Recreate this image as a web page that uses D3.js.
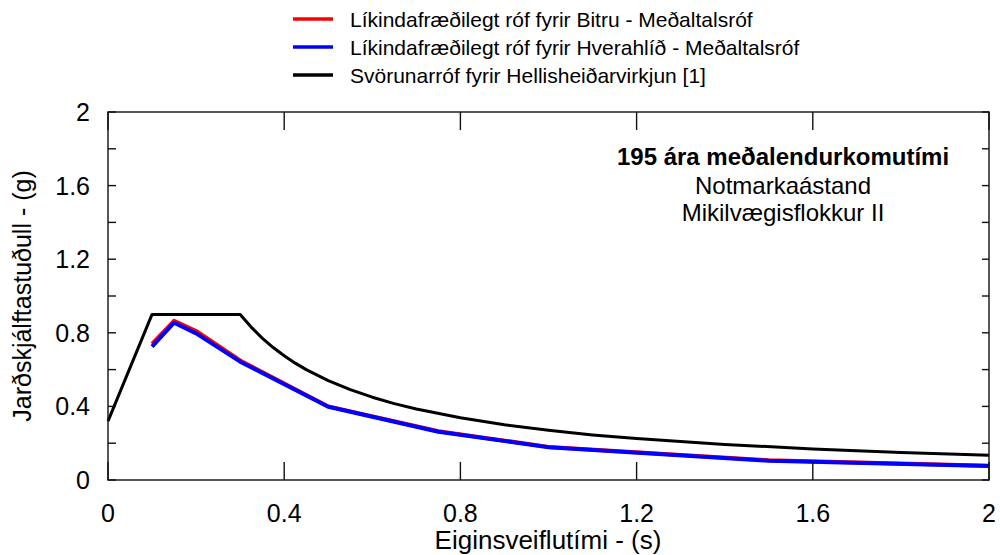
<!DOCTYPE html>
<html><head><meta charset="utf-8">
<script src="https://cdn.jsdelivr.net/npm/d3@7/dist/d3.min.js"></script>
<style>body{margin:0;background:#fff}svg{display:block}text{font-family:"Liberation Sans",Arial,sans-serif;fill:#000}</style>
</head><body><svg id="c" width="1000" height="555"></svg>
<script>
// Data
const periodsDesign = [0, 0.1, 0.3, 0.325, 0.35, 0.375, 0.4, 0.425, 0.45, 0.5, 0.55, 0.6, 0.65, 0.7, 0.8, 0.9, 1.0, 1.1, 1.2, 1.4, 1.6, 1.8, 2.0];
const valuesDesign  = [0.32, 0.9, 0.9, 0.831, 0.771, 0.72, 0.675, 0.635, 0.6, 0.54, 0.491, 0.45, 0.415, 0.386, 0.338, 0.3, 0.27, 0.245, 0.225, 0.193, 0.169, 0.15, 0.135];
const periodsProb = [0.1, 0.15, 0.2, 0.3, 0.5, 0.75, 1.0, 1.5, 2.0];
const valuesBitru = [0.74, 0.865, 0.81, 0.65, 0.40, 0.265, 0.18, 0.107, 0.077];
const valuesHvera = [0.725, 0.855, 0.797, 0.643, 0.398, 0.262, 0.178, 0.105, 0.076];
const seriesNames = ["Líkindafræðilegt róf fyrir Bitru - Meðaltalsróf",
                     "Líkindafræðilegt róf fyrir Hverahlíð - Meðaltalsróf",
                     "Svörunarróf fyrir Hellisheiðarvirkjun [1]"];
const seriesColors = ["#ff0000", "#0000ff", "#000000"];
const xTicks = [0, 0.4, 0.8, 1.2, 1.6, 2];
const yTicks = [0, 0.4, 0.8, 1.2, 1.6, 2];
const yMinor = [0.2, 0.6, 1.0, 1.4, 1.8];
const xTitle = "Eiginsveiflutími - (s)";
const yTitle = "Jarðskjálftastuðull - (g)";
const notes = ["195 ára meðalendurkomutími", "Notmarkaástand", "Mikilvægisflokkur II"];

const svg = d3.select("#c");
const L = 108, R = 989, T = 112, B = 480;
const x = d3.scaleLinear().domain([0, 2]).range([L, R]);
const y = d3.scaleLinear().domain([0, 2]).range([B, T]);

function txt(px, py, s, opts = {}) {
  const g = svg.append("g").attr("transform", `translate(${px},${py})` + (opts.rot ? ` rotate(${opts.rot})` : ""));
  return g.append("text").attr("text-anchor", opts.anchor || "start")
    .attr("font-size", opts.size || 25).attr("font-weight", opts.bold ? "bold" : "normal").text(s);
}

// curves
const line = d3.line().x(d => x(d[0])).y(d => y(d[1]));
svg.append("path").datum(periodsProb.map((p, i) => [p, valuesBitru[i]]))
  .attr("d", line).attr("fill", "none").attr("stroke", seriesColors[0]).attr("stroke-width", 4).attr("stroke-linejoin", "round");
svg.append("path").datum(periodsProb.map((p, i) => [p, valuesHvera[i]]))
  .attr("d", line).attr("fill", "none").attr("stroke", seriesColors[1]).attr("stroke-width", 4).attr("stroke-linejoin", "round");
svg.append("path").datum(periodsDesign.map((p, i) => [p, valuesDesign[i]]))
  .attr("d", line).attr("fill", "none").attr("stroke", seriesColors[2]).attr("stroke-width", 3).attr("stroke-linejoin", "round");

// frame + ticks
const ax = svg.append("g").attr("stroke", "#111").attr("stroke-width", 1.4).attr("fill", "none");
ax.append("rect").attr("x", L).attr("y", T).attr("width", R - L).attr("height", B - T);
yTicks.concat(yMinor).forEach(v => {
  ax.append("line").attr("x1", L).attr("x2", L + 8).attr("y1", y(v)).attr("y2", y(v));
  ax.append("line").attr("x1", R - 7).attr("x2", R).attr("y1", y(v)).attr("y2", y(v));
});
xTicks.forEach(v => {
  ax.append("line").attr("x1", x(v)).attr("x2", x(v)).attr("y1", B).attr("y2", B - 18);
  ax.append("line").attr("x1", x(v)).attr("x2", x(v)).attr("y1", T).attr("y2", T + 18);
});

// tick labels
const fmt = d => d3.format("")(d);
yTicks.forEach(v => txt(90, y(v) + 9, fmt(v), {anchor: "end", size: 25}));
xTicks.forEach(v => txt(x(v), 522, fmt(v), {anchor: "middle", size: 25}));

// axis titles
txt(548, 549, xTitle, {anchor: "middle", size: 26});
txt(31, 296, yTitle, {anchor: "middle", size: 25, rot: -90});

// annotation
txt(783, 165, notes[0], {anchor: "middle", size: 24, bold: true});
txt(783, 194, notes[1], {anchor: "middle", size: 24});
txt(783, 221, notes[2], {anchor: "middle", size: 24});

// legend
seriesNames.forEach((n, i) => {
  const ly = 19 + i * 28;
  svg.append("line").attr("x1", 293).attr("x2", 333).attr("y1", ly).attr("y2", ly)
    .attr("stroke", seriesColors[i]).attr("stroke-width", 3.5);
  txt(350, ly + 7.5, n, {size: 21});
});
</script></body></html>
